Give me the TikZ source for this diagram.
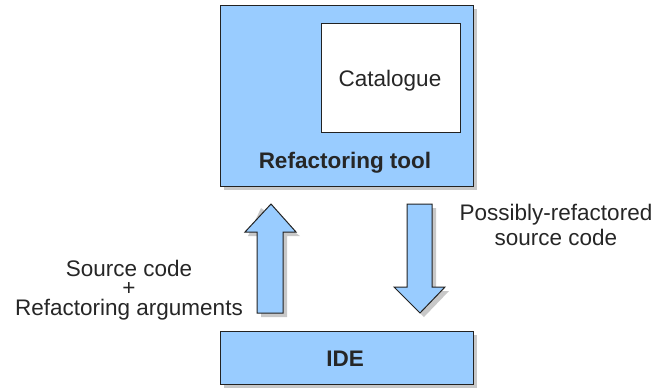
\documentclass[tikz,border=0pt]{standalone}
\usepackage{fontspec}
\setmainfont{Liberation Sans}
\definecolor{boxblue}{HTML}{99CCFF}
\definecolor{shadowgray}{HTML}{C8C8C8}
\definecolor{edgecol}{HTML}{222222}
\tikzset{
  bluebox/.style={draw=edgecol, line width=1pt, fill=boxblue},
  whitebox/.style={draw=edgecol, line width=1pt, fill=white},
  shade/.style={fill=shadowgray, draw=none},
  lbl/.style={inner sep=0pt, anchor=base, text=black!85, font=\fontsize{22.5}{24}\selectfont},
  blbl/.style={lbl, font=\fontsize{22.5}{24}\selectfont\bfseries},
}
\begin{document}
\begin{tikzpicture}[x=1pt, y=-1pt]
\useasboundingbox (0,0) rectangle (656,389);
% shadows
\fill[shade] (224,9) rectangle (477,190);
\fill[shade] (325,27) rectangle (464,136);
\fill[shade] (224,335) rectangle (477,388);
\fill[shade] (261,208) -- (300,236) -- (287,236) -- (287,317) -- (261,317) -- (261,236) -- (248,236) -- cycle;
\fill[shade] (411,208) -- (436,208) -- (436,291) -- (449,291) -- (424,317) -- (398,291) -- (411,291) -- cycle;
% refactoring tool
\node[bluebox, minimum width=253pt, minimum height=181pt, inner sep=0pt, anchor=north west] (tool) at (220,5) {};
\node[whitebox, minimum width=139pt, minimum height=109pt, inner sep=0pt, anchor=north west] (cat) at (321,23) {};
\node[lbl] (catlbl) at (390,86) {Catalogue};
\node[blbl] (toollbl) at (345,168) {Refactoring tool};
% IDE
\node[bluebox, minimum width=253pt, minimum height=53pt, inner sep=0pt, anchor=north west] (ide) at (220,331) {};
\node[blbl] (idelbl) at (345,366) {IDE};
% arrows
\coordinate (upTip) at (271,204);
\coordinate (downTip) at (420,313);
\draw[bluebox, line join=miter] (upTip) -- (296,232) -- (283,232) -- (283,313) -- (257,313) -- (257,232) -- (245,232) -- cycle;
\draw[bluebox, line join=miter] (407,204) -- (432,204) -- (432,287) -- (445,287) -- (downTip) -- (394,287) -- (407,287) -- cycle;
% labels
\node[lbl, align=center, font=\fontsize{22.5}{19.5}\selectfont] (inlbl) at (129,315) {Source code\\+\\Refactoring arguments};
\node[lbl, align=center, font=\fontsize{22.5}{25}\selectfont] (outlbl) at (556,245) {Possibly-refactored\\source code};
\end{tikzpicture}
\end{document}
